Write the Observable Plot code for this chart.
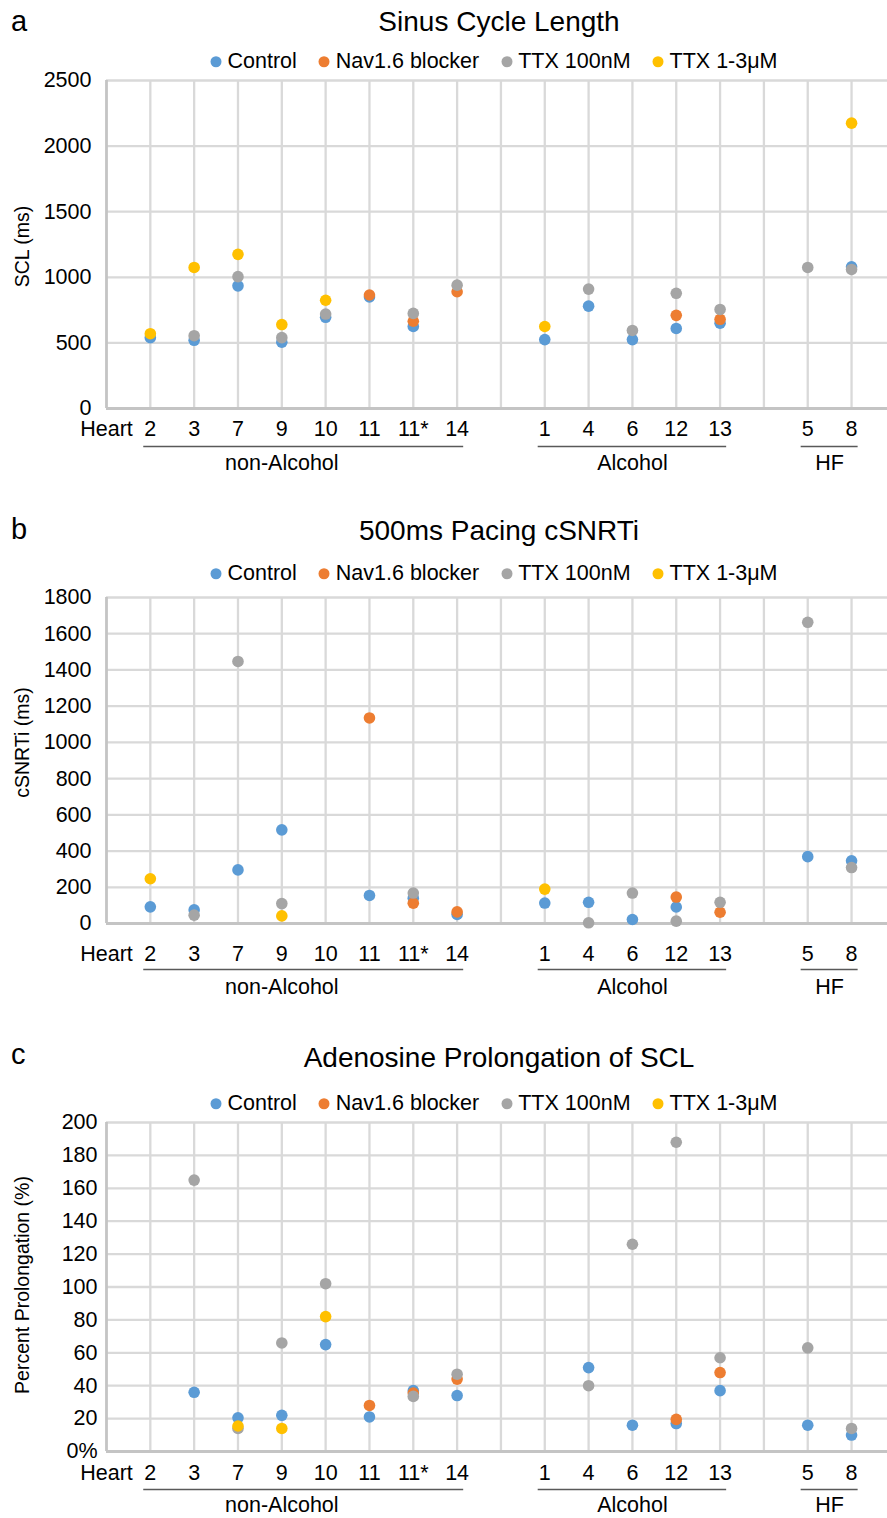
<!DOCTYPE html>
<html>
<head>
<meta charset="utf-8">
<script src="https://cdn.jsdelivr.net/npm/d3@7"></script>
<script src="https://cdn.jsdelivr.net/npm/@observablehq/plot@0.6"></script>
<style>
  body { margin: 0; background: #fff; }
  #root { position: relative; width: 887px; height: 1518px; font-family: "Liberation Sans", Arial, sans-serif; color: #000; overflow: hidden; }
  .abs { position: absolute; white-space: nowrap; line-height: 1; }
  .letter { font-size: 29px; }
  .title { font-size: 28px; transform: translateX(-50%); }
  .legend { display: flex; align-items: center; font-size: 21.5px; transform: translate(-50%, -50%); }
  .item { display: flex; align-items: center; margin-right: 22px; }
  .item:last-child { margin-right: 0; }
  .sw { width: 11px; height: 11px; border-radius: 50%; margin-right: 6px; }
  #root svg { position: absolute; left: 0; overflow: visible; }
</style>
</head>
<body>
<div id="root"></div>
<script>
// ---- categories / labels ----
const axisHearts = ["Heart", "2", "3", "7", "9", "10", "11", "11*", "14", "", "1", "4", "6", "12", "13", "", "5", "8"];
const dataHearts = ["2", "3", "7", "9", "10", "11", "11*", "14", "1", "4", "6", "12", "13", "5", "8"];
const seriesNames = ["Control", "Nav1.6 blocker", "TTX 100nM", "TTX 1-3μM"];
const seriesColors = ["#5B9BD5", "#ED7D31", "#A5A5A5", "#FFC000"];
const groupNames = ["non-Alcohol", "Alcohol", "HF"];
const groupFirst = ["2", "1", "5"];
const groupLast = ["14", "13", "8"];

// ---- panel a: Sinus Cycle Length (ms) ----
const sclControl = [540, 520, 935, 505, 695, 850, 625, null, 525, 780, 525, 610, 650, null, 1080];
const sclNav     = [null, null, null, null, null, 865, 665, 890, null, null, null, 710, 680, null, null];
const sclTTX100  = [null, 555, 1005, 540, 720, null, 725, 940, null, 910, 595, 878, 755, 1075, 1060];
const sclTTX13   = [570, 1075, 1175, 640, 825, null, null, null, 625, null, null, null, null, null, 2175];
const sclTicks = [0, 500, 1000, 1500, 2000, 2500];

// ---- panel b: 500ms Pacing cSNRTi (ms) ----
const snrtControl = [92, 75, 296, 517, null, 155, 140, 50, 113, 117, 22, 91, null, 369, 346];
const snrtNav     = [null, null, null, null, null, 1135, 112, 64, null, null, null, 146, 62, null, null];
const snrtTTX100  = [null, 46, 1447, 110, null, null, 168, null, null, 4, 168, 13, 117, 1663, 309];
const snrtTTX13   = [247, null, null, 42, null, null, null, null, 190, null, null, null, null, null, null];
const snrtTicks = [0, 200, 400, 600, 800, 1000, 1200, 1400, 1600, 1800];

// ---- panel c: Adenosine Prolongation of SCL (%) ----
const adoControl = [null, 36, 20.5, 22, 65, 21, 37, 34, null, 51, 16, 17, 37, 16, 10];
const adoNav     = [null, null, null, null, null, 28, 35.5, 44, null, null, null, 19.5, 48, null, null];
const adoTTX100  = [null, 165, 14, 66, 102, null, 33.5, 47, null, 40, 126, 188, 57, 63, 14];
const adoTTX13   = [null, null, 15.5, 14, 82, null, null, null, null, null, null, null, null, null, null];
const adoTicks = [0, 20, 40, 60, 80, 100, 120, 140, 160, 180, 200];

const FONT = '"Liberation Sans", Arial, sans-serif';
const root = document.getElementById("root");

function addDiv(cls, text, left, top, extra) {
  const d = document.createElement("div");
  d.className = "abs " + cls;
  d.textContent = text;
  d.style.left = left + "px";
  d.style.top = top + "px";
  if (extra) Object.assign(d.style, extra);
  root.appendChild(d);
  return d;
}

function addLegend(cy) {
  const lg = document.createElement("div");
  lg.className = "abs legend";
  lg.style.left = "494px";
  lg.style.top = cy + "px";
  seriesNames.forEach((s, i) => {
    const it = document.createElement("div");
    it.className = "item";
    const sw = document.createElement("div");
    sw.className = "sw";
    sw.style.background = seriesColors[i];
    const t = document.createElement("span");
    t.textContent = s;
    it.appendChild(sw); it.appendChild(t);
    lg.appendChild(it);
  });
  root.appendChild(lg);
}

function panel(cfg) {
  const rows = [];
  cfg.values.forEach((arr, si) => arr.forEach((v, i) => {
    if (v != null) rows.push({pos: axisHearts.indexOf(dataHearts[i]), v, s: seriesNames[si]});
  }));
  const groups = groupNames.map((name, i) => ({
    name,
    a: axisHearts.indexOf(groupFirst[i]),
    b: axisHearts.indexOf(groupLast[i])
  }));
  const labelShift = {"non-Alcohol": -0.5, "Alcohol": 0, "HF": 0};
  const mt = 10;
  const svg = Plot.plot({
    width: 887,
    height: mt + cfg.frameH + cfg.mb,
    marginLeft: 106, marginRight: 0, marginTop: mt, marginBottom: cfg.mb,
    style: {fontFamily: FONT, fontSize: "21.5px", color: "#000", background: "transparent", overflow: "visible"},
    x: {type: "linear", domain: [0, 17.82], axis: null},
    y: {domain: [0, cfg.max], axis: null},
    color: {domain: seriesNames, range: seriesColors},
    marks: [
      Plot.ruleX(d3.range(1, axisHearts.length), {stroke: "#D9D9D9", strokeWidth: 2.3}),
      Plot.ruleY(cfg.ticks.slice(1), {stroke: "#D9D9D9", strokeWidth: 2.3}),
      Plot.ruleX([0], {stroke: "#C4C4C4", strokeWidth: 2.8}),
      Plot.ruleY([0], {stroke: "#C4C4C4", strokeWidth: 2.8}),
      Plot.axisY({ticks: cfg.ticks, tickSize: 0, tickPadding: cfg.tp, tickFormat: cfg.fmt, fontSize: 21.5, label: null}),
      Plot.axisX({ticks: d3.range(axisHearts.length), tickSize: 0, tickPadding: cfg.tl - 7.7, tickFormat: i => axisHearts[i], fontSize: 21.5, label: null}),
      Plot.text([cfg.ylabel], {frameAnchor: "left", textAnchor: "middle", lineAnchor: "middle", rotate: -90, dx: -84, dy: cfg.yldy, text: d => d, fontSize: 19.5}),
      Plot.ruleY(groups, {x1: g => g.a - 0.15, x2: g => g.b + 0.15, y: () => 0, dy: cfg.br, stroke: "#595959", strokeWidth: 1.3}),
      Plot.text(groups, {x: g => (g.a + g.b) / 2 + labelShift[g.name], y: () => 0, dy: cfg.gl, text: "name", fontSize: 21.5}),
      Plot.dot(rows, {x: "pos", y: "v", fill: "s", r: 5.8})
    ]
  });
  svg.style.top = (cfg.frameTop - mt) + "px";
  root.appendChild(svg);
  addDiv("letter", cfg.letter, 11, cfg.letterBase - 24.5);
  addDiv("title", cfg.title, 499, cfg.titleBase - 23.7);
  addLegend(cfg.legendY);
}

panel({
  letter: "a", letterBase: 31, title: "Sinus Cycle Length", titleBase: 31.5, legendY: 62,
  frameTop: 80, frameH: 328, mb: 70, max: 2500, ticks: sclTicks, fmt: d => String(d), tp: 15,
  tl: 20, br: 38, gl: 55, ylabel: "SCL (ms)", yldy: 2,
  values: [sclControl, sclNav, sclTTX100, sclTTX13]
});
panel({
  letter: "b", letterBase: 539, title: "500ms Pacing cSNRTi", titleBase: 541, legendY: 574,
  frameTop: 597, frameH: 326, mb: 78, max: 1800, ticks: snrtTicks, fmt: d => String(d), tp: 15,
  tl: 30, br: 46, gl: 64, ylabel: "cSNRTi (ms)", yldy: -18,
  values: [snrtControl, snrtNav, snrtTTX100, snrtTTX13]
});
panel({
  letter: "c", letterBase: 1064, title: "Adenosine Prolongation of SCL", titleBase: 1068, legendY: 1104,
  frameTop: 1122, frameH: 329, mb: 66, max: 200, ticks: adoTicks, fmt: d => d === 0 ? "0%" : String(d), tp: 9,
  tl: 21, br: 38, gl: 54, ylabel: "Percent Prolongation (%)", yldy: -2,
  values: [adoControl, adoNav, adoTTX100, adoTTX13]
});
</script>
</body>
</html>
